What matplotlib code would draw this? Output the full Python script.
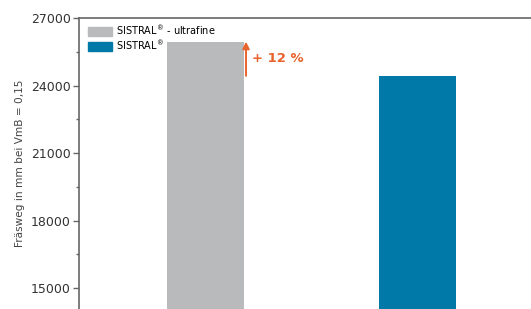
import matplotlib.pyplot as plt
from matplotlib.patches import Patch

# data
labels = ['SISTRAL$^{®}$ - ultrafine', 'SISTRAL$^{®}$']
values = [25950, 24430]
colors = ['#b9babb', '#0079a8']

fig = plt.figure(figsize=(5.31, 3.09), dpi=100)
ax = fig.add_axes([79 / 531, 0.0, 1 - 79 / 531, 1 - 18 / 309])

x = [0, 1]
ax.bar(x, values, width=0.362, color=colors)

ax.set_ylim(14070, 27000)
ax.set_xlim(-0.595, 1.532)
ax.set_yticks([15000, 18000, 21000, 24000, 27000])
ax.set_yticks([16500, 19500, 22500, 25500], minor=True)
ax.set_xticks([])

for side in ['right', 'bottom']:
    ax.spines[side].set_visible(False)
for side in ['left', 'top']:
    ax.spines[side].set_color('#666666')
    ax.spines[side].set_linewidth(1.2)
ax.tick_params(axis='y', which='major', length=4, width=1, colors='#666666',
               labelcolor='#333333', labelsize=9, pad=2)
ax.tick_params(axis='y', which='minor', length=2, width=1, colors='#666666')

ax.set_ylabel('Fräsweg in mm bei VmB = 0,15', fontsize=7.6, color='#444444', labelpad=4)

# increase arrow from blue bar level to gray bar level
ax.annotate('', xy=(0.191, values[0]), xytext=(0.191, values[1]),
            arrowprops=dict(arrowstyle='-|>', color='#e8642c', lw=1.4,
                            mutation_scale=10, shrinkA=0, shrinkB=0))
ax.text(0.22, (values[0] + values[1]) / 2, '+ 12 %', color='#e8642c',
        fontsize=9.5, fontweight='bold', va='center', ha='left')

handles = [Patch(color=c) for c in colors]
ax.legend(handles, labels, loc='upper left', frameon=False, fontsize=7,
          handlelength=2.5, handleheight=1.05, borderaxespad=0.3,
          labelspacing=0.1, handletextpad=0.35, bbox_to_anchor=(0.009, 1.0),
          borderpad=0.2)

fig.savefig('out.png', dpi=100)
